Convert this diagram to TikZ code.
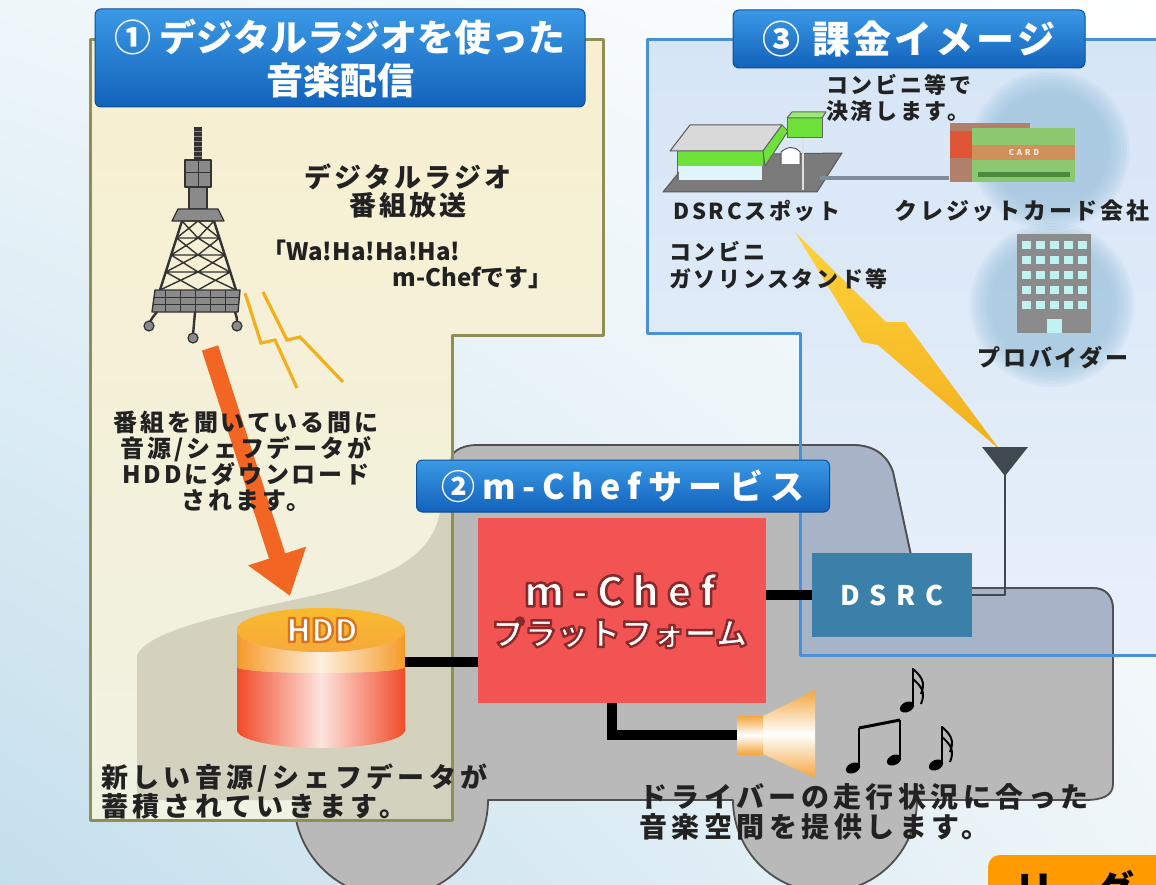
\documentclass[tikz,border=0pt]{standalone}
\usepackage{fontspec}
\setmainfont{Noto Sans CJK JP}
\newfontfamily\jsp[LetterSpace=12]{Noto Sans CJK JP}
\newfontfamily\jlow[LetterSpace=16]{Noto Sans CJK JP}
\newfontfamily\jhd[LetterSpace=8]{Noto Sans CJK JP}
\newfontfamily\jmid[LetterSpace=20]{Noto Sans CJK JP}
\newfontfamily\jwide[LetterSpace=35]{Noto Sans CJK JP}
\usetikzlibrary{calc,arrows.meta,shadings}

\definecolor{bgul}{HTML}{EEF6FA}
\definecolor{bgll}{HTML}{C4DFEC}
\definecolor{bglr}{HTML}{EEF5F9}
\definecolor{pone}{HTML}{F8EFD0}
\definecolor{ponelow}{HTML}{F0F2E2}
\definecolor{ponel}{HTML}{8F8F55}
\definecolor{pthree}{HTML}{D6E5F6}
\definecolor{pthreelow}{HTML}{E8F0FA}
\definecolor{pthreel}{HTML}{4A90D6}
\definecolor{carc}{HTML}{B9B9B9}
\definecolor{carblue}{HTML}{A7B3C7}
\definecolor{carbeige}{HTML}{CFCDB8}
\definecolor{carline}{HTML}{505050}
\definecolor{hdrtop}{HTML}{3B99E6}
\definecolor{hdrbot}{HTML}{1262BB}
\definecolor{hdrline}{HTML}{0E4E96}
\definecolor{redc}{HTML}{F25454}
\definecolor{dsrcc}{HTML}{3A80A9}
\definecolor{txt}{HTML}{222222}
\definecolor{arrowc}{HTML}{F26522}
\definecolor{boltc}{HTML}{F2B01E}
\definecolor{boltt}{HTML}{FFD23A}
\definecolor{hddor}{HTML}{F59A28}
\definecolor{hddtop}{HTML}{F7A93A}
\definecolor{hddred}{HTML}{F04A28}
\definecolor{spkc}{HTML}{F4A640}
\definecolor{towerd}{HTML}{333333}
\definecolor{towerm}{HTML}{8A8A8A}
\definecolor{glowc}{HTML}{9CC3DD}
\definecolor{greenc}{HTML}{6FE23A}
\definecolor{antc}{HTML}{404850}
\definecolor{boxor}{HTML}{FF9A00}
\definecolor{linkc}{HTML}{7F8C99}
\definecolor{cardback}{HTML}{B0806A}
\definecolor{cardred}{HTML}{E05535}
\definecolor{cardgreen}{HTML}{8CC870}
\definecolor{cardband}{HTML}{D0905A}
\definecolor{cardstripe}{HTML}{4A8A40}
\definecolor{bldg}{HTML}{8B8B8B}
\definecolor{windowc}{HTML}{BFF2F0}

% outline of the vehicle silhouette
\newcommand\carpath{(137,800) -- (137,655) .. controls (150,628) and (240,612) .. (320,594)
  .. controls (400,575) and (432,552) .. (440,512) -- (447,466)
  .. controls (450,452) and (460,445) .. (478,445) -- (852,445)
  .. controls (874,445) and (887,455) .. (893,472) -- (918,588) -- (1092,588)
  .. controls (1106,588) and (1113,596) .. (1113,610) -- (1113,784)
  .. controls (1113,796) and (1102,800) .. (1085,800) -- (917,800)
  arc[start angle=0, end angle=180, radius=92] -- (488,800)
  arc[start angle=0, end angle=180, radius=97] -- cycle}
\newcommand\panelone{(90,40) -- (603,40) -- (603,335) -- (452,335) -- (452,820) -- (90,820) -- cycle}
\newcommand\panelthree{(647,40) -- (1170,40) -- (1170,655) -- (800,655) -- (800,333) -- (647,333) -- cycle}

% white lettering with a stroked rim (fill + stroke text rendering)
\newcommand\rimtext[3]{\special{pdf:literal direct 2 Tr #2 w #1 RG}#3\special{pdf:literal direct 0 Tr}}

\tikzset{
  hdr/.style={rounded corners=6pt, draw=hdrline, line width=1pt, top color=hdrtop,
    bottom color=hdrbot, text=white, align=center, inner sep=0pt},
  conn/.style={line width=10pt, draw=black, line join=miter},
  lbl/.style={text=txt, align=center, inner sep=0pt},
  bolt/.style={draw=boltc, line width=3.2pt, line join=miter},
}

\begin{document}
\begin{tikzpicture}[x=1pt,y=-1pt,line join=round]
\useasboundingbox (0,0) rectangle (1156,885);

% backdrop
\shade[upper left=bgul, lower left=bgll, upper right=white, lower right=bglr] (0,0) rectangle (1156,885);

% billing panel
\shade[top color=pthree, bottom color=pthreelow] \panelthree;

% vehicle
\fill[carc] \carpath;
\draw[carline, line width=1.8pt] \carpath;
\begin{scope}
  \clip \panelthree;
  \fill[carblue] \carpath;
  \draw[carline, line width=1.8pt] \carpath;
\end{scope}

% broadcast panel
\shade[top color=pone, bottom color=ponelow] \panelone;
\begin{scope}
  \clip \panelone;
  \fill[carbeige, opacity=0.85] \carpath;
\end{scope}
\draw[ponel, line width=3pt] \panelone;
\draw[pthreel, line width=3pt] (1170,40) -- (647,40) -- (647,333) -- (800,333) -- (800,655) -- (1170,655);

% headers
\node[hdr, minimum width=490pt, minimum height=98pt, font=\bfseries\fontsize{37}{43}\selectfont] (h1) at (340,58) {① デジタルラジオを使った\\音楽配信};
\node[hdr, minimum width=352pt, minimum height=58pt, font=\bfseries\jhd\fontsize{38}{40}\selectfont] (h3) at (909,39) {③ 課金イメージ};

% radio tower
\fill[towerd] (194,127) rectangle (202,160);
\foreach \yy in {131,136,...,156} \draw[towerm, line width=0.8pt] (194,\yy) -- (202,\yy);
\filldraw[fill=towerm, draw=towerd, line width=1.2pt] (185,160) rectangle (211,187);
\draw[towerd, line width=1pt] (185,173) -- (211,173) (198,160) -- (198,187);
\filldraw[fill=towerm, draw=towerd, line width=1.2pt] (189,187) rectangle (207,209);
\filldraw[fill=towerm, draw=towerd, line width=1.2pt] (178,209) -- (218,209) -- (224,221) -- (172,221) -- cycle;
\draw[towerd, line width=2.4pt] (182,221) -- (160,290) (214,221) -- (236,290);
\draw[towerd, line width=1.4pt]
  (182,221) -- (214,221) (176.6,238) -- (219.4,238) (171.2,255) -- (224.8,255) (165.8,272) -- (230.2,272)
  (182,221) -- (198,238) -- (171.2,255) -- (198,272) -- (160,290)
  (198,221) -- (176.6,238) -- (198,255) -- (165.8,272) -- (198,290)
  (214,221) -- (198,238) -- (224.8,255) -- (198,272) -- (236,290)
  (198,221) -- (219.4,238) -- (198,255) -- (230.2,272) -- (198,290);
\filldraw[fill=towerm, draw=towerd, line width=1.4pt] (155,290) -- (240,290) -- (238,312) -- (152,312) -- cycle;
\draw[towerd, line width=0.8pt] (154,297) -- (239,297) (153,304) -- (239,304);
\foreach \xx in {165,180,...,230} \draw[towerd, line width=0.8pt] (\xx,290) -- (\xx,312);
\draw[towerd, line width=2.4pt] (157,312) .. controls (152,318) .. (149,324)
  (195,312) -- (193,335) (235,312) .. controls (237,318) .. (237,324);
\filldraw[fill=towerm, draw=towerd, line width=1.2pt] (149,326) circle (5) (193,338) circle (5) (237,326) circle (5);

% radio waves
\draw[bolt] (245,293) -- (261,343) -- (275,340) -- (297,388);
\draw[bolt] (263,292) -- (287,340) -- (300,337) -- (343,382);

% download arrow
\coordinate (dlstart) at (210,348);
\coordinate (dltip) at (290,596);
\draw[arrowc, line width=17pt, -{Triangle[length=42pt,width=58pt]}] (dlstart) -- (dltip);

% broadcast labels
\node[lbl, font=\bfseries\jsp\fontsize{27}{28}\selectfont] (prog) at (408,191) {デジタルラジオ\\番組放送};
\node[lbl, anchor=west, font=\bfseries\fontsize{24}{26}\selectfont] (wa1) at (262,250) {「Wa!Ha!Ha!Ha!};
\node[lbl, anchor=east, font=\bfseries\fontsize{24}{26}\selectfont] (wa2) at (553,278) {m-Chefです」};
\node[lbl, font=\bfseries\jsp\fontsize{24}{26}\selectfont] (dl) at (246,461) {番組を聞いている間に\\音源/シェフデータが\\HDDにダウンロード\\されます。};

% HDD cylinder
\node[minimum width=168pt, minimum height=174pt, inner sep=0pt] (hdd) at (321,662) {};
\shade[left color=hddred, right color=hddred, middle color=white!85!hddred]
  (237,667) -- (237,730) arc[start angle=180, end angle=0, x radius=84, y radius=18]
  -- (405,667) arc[start angle=0, end angle=180, x radius=84, y radius=6] -- cycle;
\shade[left color=hddor, right color=hddor, middle color=white!85!hddor]
  (237,630) -- (237,667) arc[start angle=180, end angle=0, x radius=84, y radius=6]
  -- (405,630) arc[start angle=0, end angle=180, x radius=84, y radius=22] -- cycle;
\shade[top color=hddtop!80!yellow, bottom color=hddtop] (321,630) ellipse [x radius=84, y radius=22];
\node[font=\bfseries\fontsize{32}{34}\selectfont, inner sep=0pt, text=white] (hddlbl) at (322,630) {\rimtext{0.85 0.45 0.12}{2.4}{HDD}};

\node[lbl, anchor=west, align=left, font=\bfseries\jlow\fontsize{27}{29}\selectfont] (store) at (101,791) {新しい音源/シェフデータが\\蓄積されていきます。};

% service section
\node[hdr, minimum width=413pt, minimum height=52pt, font=\bfseries\jmid\fontsize{34}{35}\selectfont] (h2) at (623,486) {②m-Chefサービス};
\node[fill=redc, minimum width=288pt, minimum height=185pt, inner sep=0pt] (mchef) at (622,610.5) {};
\node[font=\bfseries\jmid\fontsize{41}{42}\selectfont, inner sep=0pt, text=white] (mchefa) at (620,590) {\rimtext{0.54 0.16 0.16}{2.6}{m-Chef}};
\node[font=\bfseries\fontsize{32}{34}\selectfont, inner sep=0pt, text=white] (mchefb) at (620,633) {\rimtext{0.54 0.16 0.16}{2.4}{プラットフォーム}};
\node[fill=dsrcc, minimum width=160pt, minimum height=84pt, inner sep=0pt, text=white,
  font=\bfseries\jwide\fontsize{27}{28}\selectfont] (dsrc) at (892,595) {DSRC};

% speaker
\coordinate (spk) at (737,735);
\shade[top color=spkc, bottom color=spkc, middle color=white] (737,716) rectangle (763,754);
\shade[top color=spkc, bottom color=spkc, middle color=white] (763,716) -- (815,690) -- (815,778) -- (763,754) -- cycle;

% wiring
\draw[conn] (hdd.east) -- (hdd.east -| mchef.west);
\draw[conn] (mchef.east |- dsrc.west) -- (dsrc.west);
\draw[conn] ($(mchef.south)+(-10,0)$) |- (spk);

% music notes
\fill[black] (907,707) ellipse [x radius=7.5, y radius=5, rotate=25];
\draw[black, line width=2pt] (913,704) -- (913,668);
\draw[black, line width=2pt] (913,669) .. controls (921,676) and (926,682) .. (921,694)
  (913,679) .. controls (921,686) and (926,692) .. (921,704);
\fill[black] (853,768) ellipse [x radius=7.5, y radius=5, rotate=25];
\fill[black] (894,760) ellipse [x radius=7.5, y radius=5, rotate=25];
\draw[black, line width=2pt] (859,765) -- (859,728) (900,757) -- (900,720);
\draw[black, line width=3pt] (859,728) -- (900,720);
\fill[black] (936,765) ellipse [x radius=7.5, y radius=5, rotate=25];
\draw[black, line width=2pt] (942,762) -- (942,726);
\draw[black, line width=2pt] (942,727) .. controls (950,734) and (955,740) .. (950,752)
  (942,737) .. controls (950,744) and (955,750) .. (950,762);

\node[lbl, anchor=west, align=left, font=\bfseries\jlow\fontsize{28}{30}\selectfont] (drive) at (639,812) {ドライバーの走行状況に合った\\音楽空間を提供します。};

% billing section
\foreach \k in {0,...,7} \fill[glowc, opacity=0.14] (1050,150) circle ({80-3*\k});
\foreach \k in {0,...,7} \fill[glowc, opacity=0.14] (1052,305) circle ({82-3*\k});

% DSRC spot
\filldraw[fill=black!52, draw=black!65, line width=1pt] (663,192) -- (693,155) -- (842,153) -- (817,192) -- cycle;
\fill[cyan!12] (679,165) rectangle (762,180);
\fill[greenc] (677,151) rectangle (763,166);
\draw[black!60, line width=1pt] (677,151) -- (677,180);
\filldraw[fill=black!15, draw=black!65, line width=1pt] (670,151) -- (690,125) -- (782,125) -- (763,151) -- cycle;
\filldraw[fill=greenc, draw=black!60, line width=1pt] (763,151) -- (782,125) -- (788,131) -- (765,166) -- cycle;
\filldraw[fill=white, draw=black!65, line width=1pt] (781,164) -- (781,152) .. controls (788,146) and (795,146) .. (800,152) -- (800,164);
\draw[black!12, line width=2.5pt] (803,138) -- (803,190);
\filldraw[fill=greenc, draw=black!60, line width=1pt] (787,118) rectangle (822,138);
\filldraw[fill=greenc!70!white, draw=black!60, line width=1pt] (787,118) -- (792,112) -- (826,112) -- (822,118) -- cycle;
\coordinate (spot) at (820,178);

% credit cards
\node[minimum width=125pt, minimum height=59pt, inner sep=0pt] (card) at (1012,152.5) {};
\draw[linkc, line width=4pt] (spot) -- (card.west |- spot);
\fill[cardback] (950,123) rectangle (1030,182);
\fill[cardred] (950,131) rectangle (972,158);
\fill[cardgreen] (972,128) rectangle (1075,182);
\fill[cardband] (972,145) rectangle (1075,160);
\fill[cardstripe] (978,172) rectangle (1070,177);
\node[text=white!85!orange, font=\bfseries\jwide\fontsize{8}{9}\selectfont, inner sep=0pt] (cardlbl) at (1024,153) {CARD};

% provider building
\fill[bldg] (1017,234) rectangle (1091,333);
\foreach \i in {0,...,4} \foreach \j in {0,...,4}
  \fill[windowc] ({1022+14*\i},{241+15*\j}) rectangle ({1031+14*\i},{249+15*\j});
\fill[windowc] (1047,319) rectangle (1062,333);

% radio link to the vehicle antenna
\shade[top color=boltt, bottom color=boltc] (795,232) -- (886,322) -- (905,322) -- (1000,450) -- (878,345) -- (862,342) -- cycle;
\coordinate (ant) at (1005,470);
\draw[antc, line width=2.5pt] (dsrc.east) -| (ant);
\fill[antc] (982,447) -- (1028,447) -- (1005,476) -- cycle;

% billing labels
\node[lbl, anchor=west, align=left, font=\bfseries\jsp\fontsize{22}{26}\selectfont] (pay) at (826,98) {コンビニ等で\\決済します。};
\node[lbl, font=\bfseries\jsp\fontsize{22}{24}\selectfont] (spotlbl) at (757,211) {DSRCスポット};
\node[lbl, font=\bfseries\jsp\fontsize{23}{24}\selectfont] (cardco) at (1022,211) {クレジットカード会社};
\node[lbl, anchor=west, align=left, font=\bfseries\jsp\fontsize{22}{27}\selectfont] (conv) at (669,265) {コンビニ\\ガソリンスタンド等};
\node[lbl, font=\bfseries\jsp\fontsize{23}{24}\selectfont] (prov) at (1053,358) {プロバイダー};

% corner tab
\fill[boxor, rounded corners=12pt] (988,910) -- (988,855) -- (1180,855) -- (1180,910) -- cycle;
\node[anchor=base west, inner sep=0pt, text=black, font=\bfseries\fontsize{40}{42}\selectfont] (tab) at (1014,905) {リーグ};
\end{tikzpicture}
\end{document}
